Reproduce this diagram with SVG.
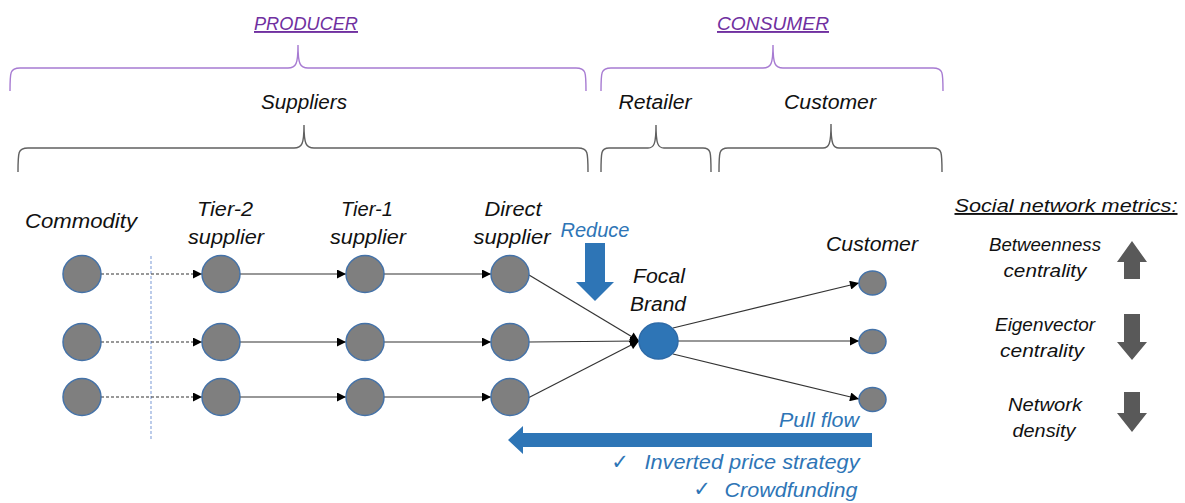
<svg xmlns="http://www.w3.org/2000/svg" width="1185" height="503" viewBox="0 0 1185 503">
<defs>
<style>
text{font-family:"Liberation Sans",Arial,sans-serif;font-style:italic;font-size:20px;fill:#111;text-anchor:middle}
.pur{fill:#7030A0;font-size:19px;text-decoration:underline}
.blue{fill:#2E75B6}
.bp{fill:none;stroke:#A77BD2;stroke-width:1.4}
.bg{fill:none;stroke:#606060;stroke-width:1.4}
.node{fill:#7F7F7F;stroke:#4472A8;stroke-width:1.5}
.focal{fill:#2E75B6;stroke:#2E6BA8;stroke-width:1.5}
.e{stroke:#333;stroke-width:1.2;fill:none}
.d{stroke:#333;stroke-width:1.1;stroke-dasharray:3 2;fill:none}
.chk{font-family:"DejaVu Sans",sans-serif;font-style:normal;fill:#2E75B6;font-size:21px}
</style>
<marker id="ah" viewBox="0 0 10 10" refX="10" refY="5" markerWidth="10" markerHeight="9" markerUnits="userSpaceOnUse" orient="auto">
<path d="M0,0 L10,5 L0,10 z" fill="#000"/>
</marker>
</defs>
<rect width="1185" height="503" fill="#fff"/>

<g id="headings">
<text class="pur" x="306" y="30" textLength="104" lengthAdjust="spacingAndGlyphs">PRODUCER</text>
<text class="pur" x="773" y="30" textLength="112" lengthAdjust="spacingAndGlyphs">CONSUMER</text>
<path class="bp" d="M10,91 C10,72 10,68 20,68 L288,68 C296,68 298,64 298,45 C298,64 300,68 308,68 L576,68 C586,68 586,72 586,91"/>
<path class="bp" d="M601,91 C601,72 601,68 611,68 L763,68 C771,68 773,64 773,45 C773,64 775,68 783,68 L933,68 C943,68 943,72 943,91"/>
<text x="304" y="109" textLength="86" lengthAdjust="spacingAndGlyphs">Suppliers</text>
<text x="655" y="109" textLength="73" lengthAdjust="spacingAndGlyphs">Retailer</text>
<text x="830" y="109" textLength="92" lengthAdjust="spacingAndGlyphs">Customer</text>
<path class="bg" d="M18,172 C18,152 18,148 28,148 L294,148 C302,148 304,144 304,125 C304,144 306,148 314,148 L578,148 C588,148 588,152 588,172"/>
<path class="bg" d="M601,172 C601,152 601,148 609,148 L648,148 C654,148 656,144 656,125 C656,144 658,148 664,148 L703,148 C711,148 711,152 711,172"/>
<path class="bg" d="M719,172 C719,152 719,148 728,148 L823,148 C829,148 831,144 831,124 C831,144 833,148 839,148 L933,148 C942,148 942,152 942,172"/>
</g>

<g id="labels">
<text x="81" y="228" textLength="112" lengthAdjust="spacingAndGlyphs">Commodity</text>
<text x="225" y="216" textLength="56" lengthAdjust="spacingAndGlyphs">Tier-2</text>
<text x="226" y="244" textLength="76" lengthAdjust="spacingAndGlyphs">supplier</text>
<text x="367" y="216" textLength="52" lengthAdjust="spacingAndGlyphs">Tier-1</text>
<text x="368" y="244" textLength="76" lengthAdjust="spacingAndGlyphs">supplier</text>
<text x="513" y="216" textLength="57" lengthAdjust="spacingAndGlyphs">Direct</text>
<text x="512" y="244" textLength="77" lengthAdjust="spacingAndGlyphs">supplier</text>
<text x="659" y="283" textLength="52" lengthAdjust="spacingAndGlyphs">Focal</text>
<text x="658" y="311" textLength="56" lengthAdjust="spacingAndGlyphs">Brand</text>
<text x="872" y="251" textLength="92" lengthAdjust="spacingAndGlyphs">Customer</text>
</g>

<g id="separator">
<line x1="151" y1="256" x2="151" y2="441" stroke="#8FAADC" stroke-width="1.2" stroke-dasharray="3 2"/>
</g>

<g id="connectors">
<line class="d" x1="101" y1="274" x2="202" y2="274" marker-end="url(#ah)"/>
<line class="d" x1="101" y1="342" x2="202" y2="342" marker-end="url(#ah)"/>
<line class="d" x1="101" y1="397" x2="202" y2="397" marker-end="url(#ah)"/>
<line class="e" x1="240" y1="274" x2="346" y2="274" marker-end="url(#ah)"/>
<line class="e" x1="240" y1="342" x2="346" y2="342" marker-end="url(#ah)"/>
<line class="e" x1="240" y1="397" x2="346" y2="397" marker-end="url(#ah)"/>
<line class="e" x1="384" y1="274" x2="491" y2="274" marker-end="url(#ah)"/>
<line class="e" x1="384" y1="342" x2="491" y2="342" marker-end="url(#ah)"/>
<line class="e" x1="384" y1="397" x2="491" y2="397" marker-end="url(#ah)"/>
<line class="e" x1="529" y1="275" x2="639" y2="341" marker-end="url(#ah)"/>
<line class="e" x1="529" y1="342" x2="639" y2="341" marker-end="url(#ah)"/>
<line class="e" x1="528" y1="398" x2="639" y2="341" marker-end="url(#ah)"/>
<line class="e" x1="673" y1="328" x2="859" y2="283" marker-end="url(#ah)"/>
<line class="e" x1="678" y1="341" x2="859" y2="341" marker-end="url(#ah)"/>
<line class="e" x1="673" y1="354" x2="859" y2="399" marker-end="url(#ah)"/>
</g>

<g id="commodity">
<ellipse class="node" cx="82" cy="274" rx="19" ry="18.5"/>
<ellipse class="node" cx="82" cy="342" rx="19" ry="18.5"/>
<ellipse class="node" cx="82" cy="397" rx="19" ry="18.5"/>
</g>
<g id="tier2">
<ellipse class="node" cx="221" cy="274" rx="19" ry="18.5"/>
<ellipse class="node" cx="221" cy="342" rx="19" ry="18.5"/>
<ellipse class="node" cx="221" cy="397" rx="19" ry="18.5"/>
</g>
<g id="tier1">
<ellipse class="node" cx="365" cy="274" rx="19" ry="18.5"/>
<ellipse class="node" cx="365" cy="342" rx="19" ry="18.5"/>
<ellipse class="node" cx="365" cy="397" rx="19" ry="18.5"/>
</g>
<g id="direct">
<ellipse class="node" cx="510" cy="274" rx="19" ry="18.5"/>
<ellipse class="node" cx="510" cy="342" rx="19" ry="18.5"/>
<ellipse class="node" cx="510" cy="397" rx="19" ry="18.5"/>
</g>
<g id="focal">
<ellipse class="focal" cx="658.5" cy="341" rx="19.5" ry="18"/>
</g>
<g id="customers">
<ellipse class="node" cx="872.5" cy="283" rx="13.5" ry="12"/>
<ellipse class="node" cx="872.5" cy="341.5" rx="13.5" ry="12"/>
<ellipse class="node" cx="872.5" cy="399.5" rx="13.5" ry="12"/>
</g>

<g id="reduce">
<text class="blue" x="595" y="237" textLength="69" lengthAdjust="spacingAndGlyphs">Reduce</text>
<polygon fill="#2E75B6" points="585,243 605,243 605,282 614,282 595,301 576,282 585,282"/>
</g>

<g id="pullflow">
<text class="blue" x="819" y="427" textLength="80" lengthAdjust="spacingAndGlyphs">Pull flow</text>
<polygon fill="#2E75B6" points="872,433 872,447 523,447 523,454 508,440 523,426 523,433"/>
<text class="chk" x="620" y="469">✓</text>
<text class="blue" x="752" y="469" textLength="215" lengthAdjust="spacingAndGlyphs">Inverted price strategy</text>
<text class="chk" x="702" y="496">✓</text>
<text class="blue" x="791" y="497" textLength="133" lengthAdjust="spacingAndGlyphs">Crowdfunding</text>
</g>

<g id="metrics">
<text x="1066" y="212" textLength="223" lengthAdjust="spacingAndGlyphs" style="font-size:19px;text-decoration:underline">Social network metrics:</text>
<text x="1045" y="251" textLength="112" lengthAdjust="spacingAndGlyphs" style="font-size:18px">Betweenness</text>
<text x="1045" y="277" textLength="83" lengthAdjust="spacingAndGlyphs" style="font-size:18px">centrality</text>
<polygon fill="#595959" points="1132,241 1147,262 1140,262 1140,279 1124,279 1124,262 1117,262"/>
<text x="1045" y="331" textLength="100" lengthAdjust="spacingAndGlyphs" style="font-size:18px">Eigenvector</text>
<text x="1042" y="357" textLength="84" lengthAdjust="spacingAndGlyphs" style="font-size:18px">centrality</text>
<polygon fill="#595959" points="1124,314 1140,314 1140,342 1147,342 1132,360 1117,342 1124,342"/>
<text x="1045" y="411" textLength="74" lengthAdjust="spacingAndGlyphs" style="font-size:18px">Network</text>
<text x="1044" y="437" textLength="63" lengthAdjust="spacingAndGlyphs" style="font-size:18px">density</text>
<polygon fill="#595959" points="1124,392 1140,392 1140,413 1147,413 1132,432 1117,413 1124,413"/>
</g>
</svg>
